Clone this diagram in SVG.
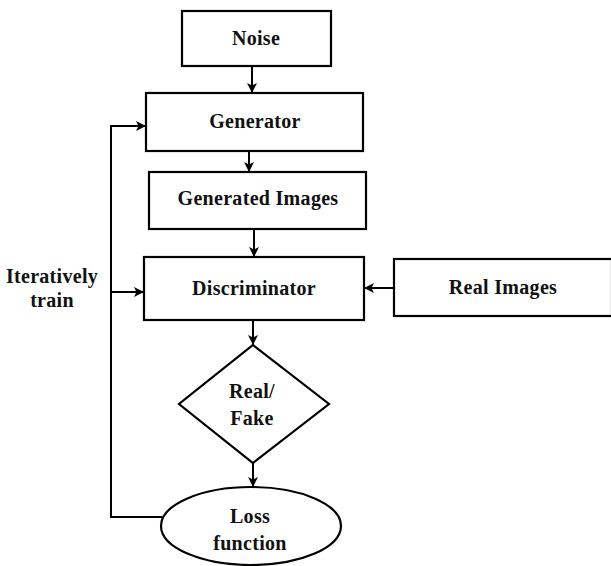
<svg xmlns="http://www.w3.org/2000/svg" width="611" height="566" viewBox="0 0 611 566">
<style>
.box{fill:#fff;stroke:#000;stroke-width:2.2}
.t{font-family:"Liberation Serif","Times New Roman",serif;font-weight:bold;font-size:20px;letter-spacing:0.3px;fill:#111;text-anchor:middle}
.c{fill:none;stroke:#000;stroke-width:2}
</style>
<defs>
<marker id="ah" viewBox="0 0 10 10" refX="10" refY="5" markerWidth="10" markerHeight="10" markerUnits="userSpaceOnUse" orient="auto">
<path d="M0,0 L10,5 L0,10 L2.5,5 Z" fill="#000"/>
</marker>
</defs>
<rect width="611" height="566" fill="#fff"/>
<g id="connectors">
<line class="c" x1="252" y1="66" x2="252" y2="93" marker-end="url(#ah)"/>
<line class="c" x1="249" y1="151" x2="249" y2="172" marker-end="url(#ah)"/>
<line class="c" x1="254" y1="229" x2="254" y2="257" marker-end="url(#ah)"/>
<line class="c" x1="253" y1="320" x2="253" y2="345" marker-end="url(#ah)"/>
<line class="c" x1="253" y1="463" x2="253" y2="487" marker-end="url(#ah)"/>
<line class="c" x1="394" y1="288" x2="364" y2="288" marker-end="url(#ah)"/>
<polyline class="c" points="162,517 111,517 111,126 146,126" marker-end="url(#ah)"/>
<line class="c" x1="111" y1="292" x2="144" y2="292" marker-end="url(#ah)"/>
</g>
<g id="noise"><rect class="box" x="182" y="11" width="149" height="55"/><text class="t" x="256" y="45">Noise</text></g>
<g id="generator"><rect class="box" x="146" y="93" width="217" height="58"/><text class="t" x="255" y="128">Generator</text></g>
<g id="generated-images"><rect class="box" x="149" y="172" width="217" height="57"/><text class="t" x="258" y="205">Generated Images</text></g>
<g id="discriminator"><rect class="box" x="144" y="257" width="220" height="63"/><text class="t" x="254" y="295">Discriminator</text></g>
<g id="real-images"><rect class="box" x="394" y="259" width="218" height="57"/><text class="t" x="503" y="294">Real Images</text></g>
<g id="iteratively-train"><text class="t" x="52" y="283">Iteratively</text><text class="t" x="52" y="307">train</text></g>
<g id="real-fake"><polygon class="box" points="253,345 329,404 253,463 179,404"/><text class="t" x="252" y="398">Real/</text><text class="t" x="252" y="425">Fake</text></g>
<g id="loss-function"><ellipse class="box" cx="251" cy="526" rx="90" ry="39"/><text class="t" x="250" y="523">Loss</text><text class="t" x="250" y="550">function</text></g>
</svg>
